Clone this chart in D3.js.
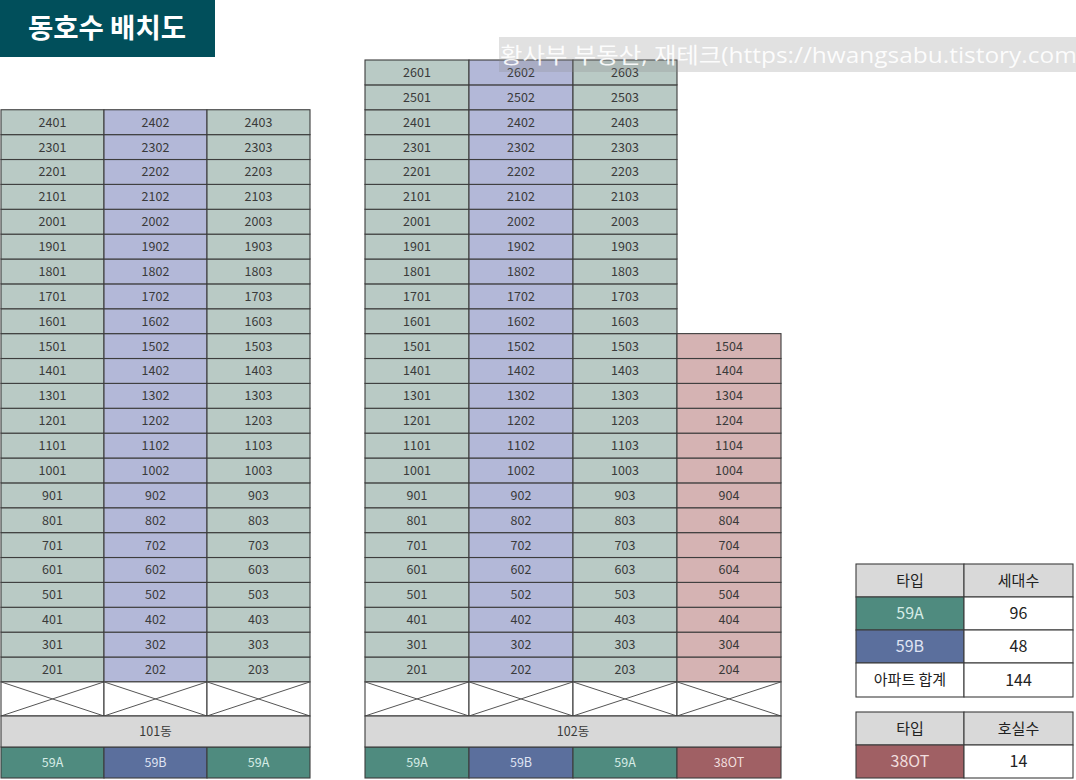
<!DOCTYPE html>
<html><head><meta charset="utf-8">
<script src="https://cdn.jsdelivr.net/npm/d3@7"></script>
<style>html,body{margin:0;padding:0;background:#fff;}svg{display:block;}</style>
</head><body>
<svg id="c" width="1076" height="780"></svg>
<script>
// ---- data ----
const titleText = "동호수 배치도";
const watermarkText = "황사부 부동산, 재테크(https://hwangsabu.tistory.com)";
const buildingNames = ["101동", "102동"];
const lines101 = ["01", "02", "03"];
const types101 = ["59A", "59B", "59A"];
const topFloors101 = [24, 24, 24];
const lines102 = ["01", "02", "03", "04"];
const types102 = ["59A", "59B", "59A", "38OT"];
const topFloors102 = [26, 26, 26, 15];
const lowestFloor = 2;
const aptTypes = ["59A", "59B"];
const aptCounts = [96, 48];
const aptTotalLabel = "아파트 합계";
const aptTotal = 144;
const otTypes = ["38OT"];
const otCounts = [14];
const legendHead1 = ["타입", "세대수"];
const legendHead2 = ["타입", "호실수"];

// ---- styles ----
const cellFill = {"59A": "#b9cac5", "59B": "#b3b8d8", "38OT": "#d5b3b3"};
const typeFill = {"59A": "#4f8b7f", "59B": "#5b6f9d", "38OT": "#a06064"};
const typeText = {"59A": "#d6ece6", "59B": "#dfe3f3", "38OT": "#f1dede"};
const stroke = "#3d3d3d";
const font = "'Noto Sans CJK KR','Noto Sans',sans-serif";

const svg = d3.select("#c");

// floor scale (top edge of each floor row)
const y = d3.scaleLinear().domain([lowestFloor, 26]).range([657, 60]);
const rowH = y(lowestFloor) - y(lowestFloor + 1);
const pilotiTop = y(lowestFloor) + rowH, pilotiBot = 716;
const labelBot = 747, typeBot = 778;

const buildings = [
  {name: buildingNames[0], lines: lines101, types: types101, tops: topFloors101, x0: 1, x1: 310},
  {name: buildingNames[1], lines: lines102, types: types102, tops: topFloors102, x0: 365, x1: 781}
];

buildings.forEach(b => {
  const x = d3.scaleBand().domain(b.lines).range([b.x0, b.x1]);
  const g = svg.append("g");
  b.lines.forEach((ln, i) => {
    const floors = d3.range(lowestFloor, b.tops[i] + 1);
    const t = b.types[i];
    const cells = g.selectAll(null).data(floors).enter().append("g");
    cells.append("rect")
      .attr("x", x(ln)).attr("y", d => y(d))
      .attr("width", x.bandwidth()).attr("height", rowH)
      .attr("fill", cellFill[t]).attr("stroke", stroke).attr("stroke-width", 1.1);
    cells.append("text")
      .attr("x", x(ln) + x.bandwidth() / 2).attr("y", d => y(d) + rowH / 2 + 4.5)
      .attr("text-anchor", "middle").attr("font-family", font).attr("font-size", 12.5)
      .attr("fill", "#3a3a3a").text(d => d + ln);
    // piloti
    const px0 = x(ln), px1 = x(ln) + x.bandwidth();
    g.append("rect").attr("x", px0).attr("y", pilotiTop).attr("width", x.bandwidth())
      .attr("height", pilotiBot - pilotiTop).attr("fill", "#fff").attr("stroke", stroke).attr("stroke-width", 1.1);
    g.append("line").attr("x1", px0).attr("y1", pilotiTop).attr("x2", px1).attr("y2", pilotiBot)
      .attr("stroke", "#555").attr("stroke-width", 1);
    g.append("line").attr("x1", px0).attr("y1", pilotiBot).attr("x2", px1).attr("y2", pilotiTop)
      .attr("stroke", "#555").attr("stroke-width", 1);
    // type row
    g.append("rect").attr("x", px0).attr("y", labelBot).attr("width", x.bandwidth())
      .attr("height", typeBot - labelBot).attr("fill", typeFill[t]).attr("stroke", stroke).attr("stroke-width", 1.1);
    g.append("text").attr("x", px0 + x.bandwidth() / 2).attr("y", (labelBot + typeBot) / 2 + 4.5)
      .attr("text-anchor", "middle").attr("font-family", font).attr("font-size", 12.5)
      .attr("fill", typeText[t]).text(t);
  });
  // building label row
  g.append("rect").attr("x", b.x0).attr("y", pilotiBot).attr("width", b.x1 - b.x0)
    .attr("height", labelBot - pilotiBot).attr("fill", "#d8d8d8").attr("stroke", stroke).attr("stroke-width", 1.1);
  g.append("text").attr("x", (b.x0 + b.x1) / 2).attr("y", (pilotiBot + labelBot) / 2 + 4.5)
    .attr("text-anchor", "middle").attr("font-family", font).attr("font-size", 12.5)
    .attr("fill", "#3a3a3a").text(b.name);
});

// ---- title ----
svg.append("rect").attr("x", 0).attr("y", 0).attr("width", 215).attr("height", 57).attr("fill", "#014f5b");
svg.append("text").attr("x", 107).attr("y", 38).attr("text-anchor", "middle")
  .attr("font-family", font).attr("font-weight", 700).attr("font-size", 27.5).attr("fill", "#fff").text(titleText);

// ---- legend tables ----
const lx0 = 856, lxm = 964, lx1 = 1073;
function cell(x0, x1, y0, y1, fill, txt, color, size) {
  svg.append("rect").attr("x", x0).attr("y", y0).attr("width", x1 - x0).attr("height", y1 - y0)
    .attr("fill", fill).attr("stroke", stroke).attr("stroke-width", 1.1);
  svg.append("text").attr("x", (x0 + x1) / 2).attr("y", (y0 + y1) / 2 + size * 0.36)
    .attr("text-anchor", "middle").attr("font-family", font).attr("font-size", size)
    .attr("fill", color).text(txt);
}
const r1 = [564, 597, 630, 663, 697];
cell(lx0, lxm, r1[0], r1[1], "#d9d9d9", legendHead1[0], "#222", 15);
cell(lxm, lx1, r1[0], r1[1], "#d9d9d9", legendHead1[1], "#222", 15);
aptTypes.forEach((t, i) => {
  cell(lx0, lxm, r1[i + 1], r1[i + 2], typeFill[t], t, typeText[t], 16);
  cell(lxm, lx1, r1[i + 1], r1[i + 2], "#fff", aptCounts[i], "#222", 16);
});
cell(lx0, lxm, r1[3], r1[4], "#fff", aptTotalLabel, "#222", 15);
cell(lxm, lx1, r1[3], r1[4], "#fff", aptTotal, "#222", 16);
const r2 = [712, 745, 778];
cell(lx0, lxm, r2[0], r2[1], "#d9d9d9", legendHead2[0], "#222", 15);
cell(lxm, lx1, r2[0], r2[1], "#d9d9d9", legendHead2[1], "#222", 15);
otTypes.forEach((t, i) => {
  cell(lx0, lxm, r2[1], r2[2], typeFill[t], t, typeText[t], 16);
  cell(lxm, lx1, r2[1], r2[2], "#fff", otCounts[i], "#222", 16);
});

// ---- watermark ----
svg.append("rect").attr("x", 499).attr("y", 37).attr("width", 577).attr("height", 35)
  .attr("fill", "#8a8a8a").attr("opacity", 0.26);
svg.append("text").attr("x", 500).attr("y", 63).attr("font-family", "'Open Sans','Noto Sans CJK KR',sans-serif")
  .attr("font-size", 22).attr("textLength", 584).attr("lengthAdjust", "spacingAndGlyphs")
  .attr("fill", "#fff").attr("opacity", 0.9).text(watermarkText);
</script>
</body></html>
